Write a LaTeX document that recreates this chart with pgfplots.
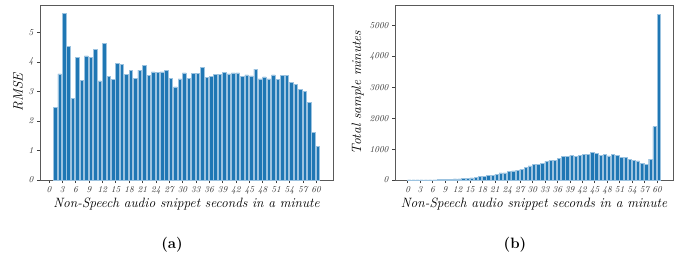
\documentclass[border=0pt]{standalone}
\usepackage{pgfplots}
\usepackage{pgfplotstable}
\pgfplotsset{compat=1.18}
\definecolor{tabblue}{HTML}{1F77B4}
\definecolor{edgeblue}{HTML}{9CC3E0}
\pgfplotstableread{
x y
1 2.45
2 3.59
3 5.63
4 4.51
5 2.77
6 4.16
7 3.37
8 4.20
9 4.16
10 4.42
11 3.35
12 4.63
13 3.50
14 3.40
15 3.94
16 3.92
17 3.58
18 3.70
19 3.45
20 3.72
21 3.88
22 3.54
23 3.66
24 3.64
25 3.66
26 3.71
27 3.44
28 3.15
29 3.42
30 3.62
31 3.44
32 3.61
33 3.61
34 3.81
35 3.47
36 3.50
37 3.57
38 3.57
39 3.65
40 3.59
41 3.62
42 3.62
43 3.50
44 3.56
45 3.52
46 3.75
47 3.42
48 3.49
49 3.42
50 3.56
51 3.41
52 3.55
53 3.55
54 3.31
55 3.24
56 3.07
57 3.01
58 2.63
59 1.61
60 1.14
}\rmsetable
\pgfplotstableread{
x y
0 2
1 2
2 3
3 3
4 4
5 5
6 6
7 10
8 15
9 20
10 28
11 33
12 40
13 45
14 50
15 70
16 80
17 110
18 120
19 150
20 162
21 184
22 227
23 227
24 270
25 292
26 324
27 356
28 400
29 454
30 508
31 508
32 540
33 605
34 626
35 648
36 713
37 756
38 756
39 810
40 767
41 799
42 832
43 842
44 896
45 864
46 810
47 821
48 778
49 842
50 799
51 734
52 734
53 680
54 637
55 616
56 529
57 497
58 680
59 1728
60 5379
}\minutestable
\pgfplotsset{
  mystyle/.style={
    scale only axis,
    ybar,
    bar width=0.8,
    bar shift=0pt,
    axis line style={draw=black!65},
    tick align=outside,
    major tick length=3pt,
    tick style={draw=black!75, line width=0.5pt},
    xtick pos=bottom, ytick pos=left,
    ymin=0,
    xtick={-0.4,2.6,5.6,8.6,11.6,14.6,17.6,20.6,23.6,26.6,29.6,32.6,35.6,38.6,41.6,44.6,47.6,50.6,53.6,56.6,59.6},
    xticklabels={0,3,6,9,12,15,18,21,24,27,30,33,36,39,42,45,48,51,54,57,60},
    ticklabel style={font=\itshape\fontsize{9}{10}\selectfont, text=black!80},
    xticklabel style={inner xsep=0pt},
    /pgf/number format/assume math mode=true,
    /pgf/number format/1000 sep={},
    scaled y ticks=false,
    label style={font=\itshape\fontsize{13.5}{15}\selectfont},
    xlabel={Non-Speech audio snippet seconds in a minute},
    xlabel style={yshift=3pt},
    ylabel style={yshift=-1pt},
  }
}
\begin{document}
\begin{tikzpicture}
\useasboundingbox (0,0) rectangle (694pt,266pt);
\begin{axis}[mystyle,
  at={(40pt,86pt)}, anchor=south west,
  width=293pt, height=175pt,
  xmin=-2.39, xmax=63.39,
  ymax=5.92,
  ytick={0,1,2,3,4,5},
  ylabel={RMSE},
]
\addplot[fill=tabblue, draw=edgeblue, line width=0.4pt] table[x=x,y=y] {\rmsetable};
\end{axis}
\begin{axis}[mystyle,
  at={(395pt,86pt)}, anchor=south west,
  width=278pt, height=175pt,
  xmin=-3.44, xmax=63.44,
  ymax=5671,
  ytick={0,1000,2000,3000,4000,5000},
  ylabel={Total sample minutes},
]
\addplot[fill=tabblue, draw=edgeblue, line width=0.4pt] table[x=x,y=y] {\minutestable};
\end{axis}
\node[font=\bfseries\fontsize{15}{17}\selectfont] at (172pt,21pt) {(a)};
\node[font=\bfseries\fontsize{15}{17}\selectfont] at (515pt,21pt) {(b)};
\end{tikzpicture}
\end{document}
